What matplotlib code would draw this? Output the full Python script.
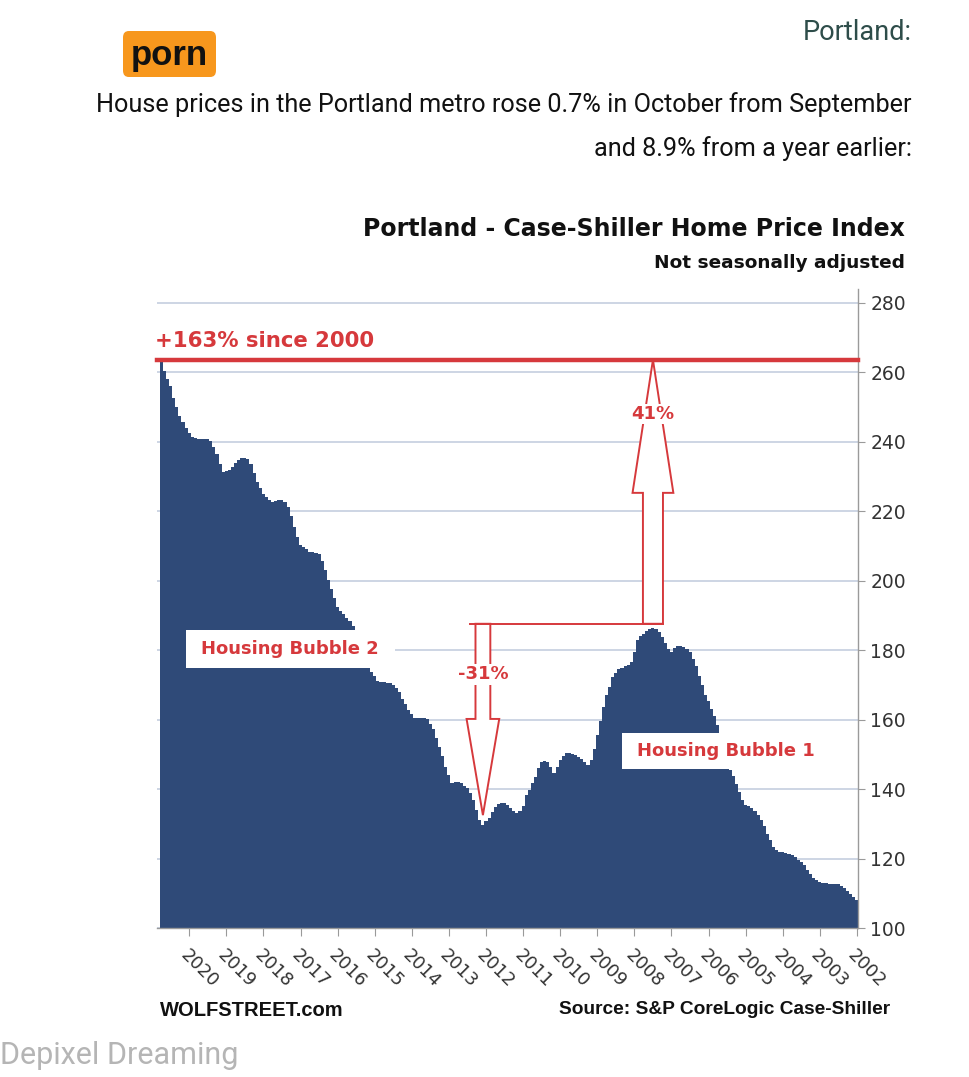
import matplotlib
matplotlib.use('agg')
import numpy as np
import matplotlib.pyplot as plt
from matplotlib.patches import Polygon, FancyBboxPatch, Rectangle

# Portland Case-Shiller index, monthly, Jan 2002 .. Oct 2020
hpi = [
    108.1, 108.9, 109.8, 110.7, 111.6, 112.2, 112.8, 112.8, 112.8, 112.8, 113.0, 113.1,  # 2002
    113.3, 113.8, 114.4, 115.6, 116.8, 118.2, 119.0, 119.6, 120.4, 121.0, 121.3, 121.6,  # 2003
    121.8, 122.0, 122.6, 123.3, 125.2, 127.2, 129.3, 131.1, 132.5, 133.8, 134.6, 135.1,  # 2004
    135.4, 136.9, 139.3, 141.6, 143.8, 145.5, 149.0, 152.5, 156.0, 158.5, 161.0, 163.0,  # 2005
    165.5, 167.2, 170.0, 172.5, 175.4, 177.5, 179.6, 180.4, 181.0, 181.2, 181.2, 180.5,  # 2006
    179.6, 180.4, 182.0, 183.7, 185.1, 186.0, 186.3, 186.0, 185.4, 184.8, 184.0, 183.0,  # 2007
    179.5, 176.5, 175.6, 175.3, 175.0, 174.5, 173.5, 172.2, 169.5, 167.2, 163.5, 159.5,  # 2008
    155.5, 151.5, 148.5, 147.0, 147.8, 148.6, 149.3, 149.8, 150.1, 150.3, 150.3, 149.5,  # 2009
    148.4, 146.5, 144.6, 146.5, 147.9, 148.2, 147.9, 146.0, 143.5, 141.8, 139.8, 138.2,  # 2010
    135.0, 133.8, 133.0, 133.6, 134.6, 135.3, 136.0, 136.1, 135.6, 134.9, 133.5, 131.8,  # 2011
    130.8, 129.7, 131.0, 134.0, 137.0, 139.0, 140.2, 141.0, 141.8, 142.1, 142.0, 141.7,  # 2012
    144.0, 146.5, 149.5, 152.0, 154.8, 157.2, 158.8, 160.2, 160.4, 160.4, 160.4, 160.5,  # 2013
    161.5, 162.8, 164.5, 166.0, 168.0, 169.2, 170.0, 170.5, 170.6, 170.7, 170.9, 171.0,  # 2014
    172.5, 173.8, 176.5, 178.5, 181.0, 183.5, 185.5, 187.0, 188.3, 189.3, 190.3, 191.3,  # 2015
    192.5, 195.0, 197.5, 200.2, 203.0, 205.8, 207.8, 208.1, 208.3, 208.4, 209.0, 209.7,  # 2016
    210.3, 212.5, 215.6, 218.5, 221.3, 222.8, 223.3, 223.2, 223.0, 222.8, 223.3, 224.2,  # 2017
    225.0, 226.8, 228.5, 231.0, 233.5, 235.0, 235.4, 235.2, 234.8, 233.8, 232.7, 232.0,  # 2018
    231.6, 231.4, 233.5, 236.5, 238.5, 240.3, 240.7, 240.8, 240.7, 240.8, 241.0, 241.3,  # 2019
    242.5, 244.0, 245.8, 247.5, 250.0, 252.5, 256.0, 258.0, 260.5, 263.3,                # 2020
]
years = list(range(2002, 2021))
yticks = list(range(100, 281, 20))
up_label = '41%'
down_label = '-31%'

navy = '#2f4a78'
red = '#d6393c'
W, H = 969, 1077

def fx(p):
    return p / W

def fy(p):
    return 1 - p / H

t = 2002 + np.arange(len(hpi)) / 12.0
v = np.array(hpi)

fig = plt.figure(figsize=(W / 100, H / 100), dpi=100)
ax = fig.add_axes([fx(157), fy(928), (858 - 157) / W, (928 - 289) / H])

ax.bar(t, v, width=1 / 12.0, color=navy, linewidth=0, zorder=2)

ax.set_xlim(2020.868, 2001.973)
ax.set_ylim(100, 284)
ax.set_yticks(yticks)
ax.yaxis.tick_right()
ax.yaxis.grid(True, color='#c9d2e2', lw=1.3, zorder=0)
ax.set_axisbelow(True)
for s in ['left', 'top']:
    ax.spines[s].set_visible(False)
for s in ['right', 'bottom']:
    ax.spines[s].set_color('#9a9a9a')
    ax.spines[s].set_linewidth(1.0)
ax.tick_params(axis='y', length=5, color='#9a9a9a', labelsize=13.5,
               labelcolor='#333333', pad=4)
ax.set_xticks(years)
ax.set_xticklabels([str(y) for y in years], rotation=-45, ha='left', va='top',
                   rotation_mode='anchor')
ax.tick_params(axis='x', length=6, color='#9a9a9a', labelsize=13,
               labelcolor='#333333', pad=7)

# red line at the latest value
last = v[-1]
ax.axhline(last + 0.3, color=red, lw=3.2, zorder=4, clip_on=False)
pct = int(round((last / 100.0 - 1) * 100))
fig.text(fx(155), fy(341), '+%d%% since 2000' % pct, color=red, fontsize=15.3,
         fontweight='bold', ha='left', va='center')

# peak of bubble 1 and trough after it
i_pk = int(np.argmax(v[:120]))
i_tr = i_pk + int(np.argmin(v[i_pk:150]))
xp, xt = t[i_pk], t[i_tr]
lev = v[i_pk] + 1.3

# 41% arrow up to the red line
sw, hw, hb = 0.27, 0.55, 225.3
up = Polygon([(xp - sw, lev), (xp - sw, hb), (xp - hw, hb), (xp, last + 0.3),
              (xp + hw, hb), (xp + sw, hb), (xp + sw, lev)],
             closed=True, fc='white', ec=red, lw=1.4, zorder=5)
ax.add_patch(up)
ax.text(xp, 248, up_label, color=red, fontsize=13, fontweight='bold',
        ha='center', va='center', zorder=6, bbox=dict(fc='white', ec='none', pad=1))

# -31% arrow down to the trough
sw2, hw2, hb2 = 0.2, 0.44, 160.2
dn = Polygon([(xt - sw2, lev), (xt - sw2, hb2), (xt - hw2, hb2), (xt, v[i_tr] + 2.8),
              (xt + hw2, hb2), (xt + sw2, hb2), (xt + sw2, lev)],
             closed=True, fc='white', ec=red, lw=1.4, zorder=5)
ax.add_patch(dn)
ax.plot([xt + 0.35, xp - sw], [lev, lev], color=red, lw=1.4, zorder=6)
ax.text(xt, 173, down_label, color=red, fontsize=13, fontweight='bold',
        ha='center', va='center', zorder=6, bbox=dict(fc='white', ec='none', pad=1))

# bubble labels
fig.patches.append(Rectangle((fx(186), fy(668)), (395 - 186) / W, 38 / H,
                             transform=fig.transFigure, fc='white', ec='none', zorder=7))
fig.text(fx(290), fy(649), 'Housing Bubble 2', color=red, fontsize=13,
         fontweight='bold', ha='center', va='center', zorder=8)
fig.patches.append(Rectangle((fx(622), fy(769)), (830 - 622) / W, 36 / H,
                             transform=fig.transFigure, fc='white', ec='none', zorder=7))
fig.text(fx(726), fy(751), 'Housing Bubble 1', color=red, fontsize=13,
         fontweight='bold', ha='center', va='center', zorder=8)

# chart titles
fig.text(fx(905), fy(229), 'Portland - Case-Shiller Home Price Index', fontsize=17,
         fontweight='bold', ha='right', va='center', color='#111111')
fig.text(fx(905), fy(263), 'Not seasonally adjusted', fontsize=13.3,
         fontweight='bold', ha='right', va='center', color='#111111')

# footer
fig.text(fx(890), fy(1010), 'Source: S&P CoreLogic Case-Shiller', fontsize=13.8,
         fontweight='bold', family='Liberation Sans', ha='right', va='center',
         color='#111111')
fig.text(fx(160), fy(1010), 'WOLFSTREET.com', fontsize=14.5, fontweight='bold',
         family='Liberation Sans', ha='left', va='center', color='#111111')
fig.text(fx(238), fy(1056), 'Depixel Dreaming', fontsize=22, family='Roboto',
         ha='right', va='center', color='#b5b5b5')

# article text above the chart
fig.text(fx(912), fy(32), 'Portland:', fontsize=19.5, family='Roboto',
         ha='right', va='center', color='#2e4d4a')
fig.text(fx(912), fy(105), 'House prices in the Portland metro rose 0.7% in October from September',
         fontsize=18.2, family='Roboto', ha='right', va='center', color='#111111')
fig.text(fx(912), fy(149), 'and 8.9% from a year earlier:', fontsize=18.2,
         family='Roboto', ha='right', va='center', color='#111111')

# orange logo
fig.patches.append(FancyBboxPatch((fx(123), fy(77)), (216 - 123) / W, (77 - 31) / H,
                                  boxstyle='round,pad=0,rounding_size=0.006',
                                  transform=fig.transFigure, fc='#f7971d', ec='none'))
fig.text(fx(169), fy(55), 'porn', fontsize=25, fontweight='bold',
         family='Liberation Sans', ha='center', va='center', color='#111111')

fig.savefig('out.png', dpi=100, facecolor='white')
